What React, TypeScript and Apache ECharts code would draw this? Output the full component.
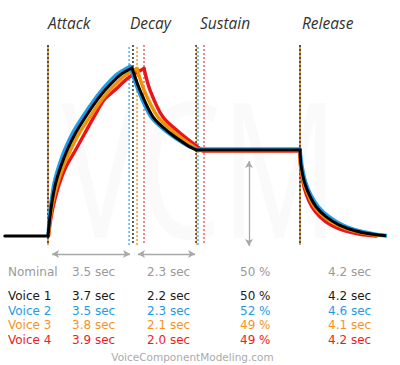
import React, { useEffect, useRef } from "react";
import * as echarts from "echarts";

// ---- data ----
const phaseLabels = ["Attack", "Decay", "Sustain", "Release"];
const rowNames = ["Nominal", "Voice 1", "Voice 2", "Voice 3", "Voice 4"];
const attackTimes = ["3.5 sec", "3.7 sec", "3.5 sec", "3.8 sec", "3.9 sec"];
const decayTimes = ["2.3 sec", "2.2 sec", "2.3 sec", "2.1 sec", "2.0 sec"];
const sustainLevels = ["50 %", "50 %", "52 %", "49 %", "49 %"];
const releaseTimes = ["4.2 sec", "4.2 sec", "4.6 sec", "4.1 sec", "4.2 sec"];
const footerText = "VoiceComponentModeling.com";
const watermarkText = "VCM";

// envelope curves: [time (s), level (%)]
const voice1Curve = [
  [-1.8, 0], [0, 0], [0.083, 11.5], [0.18, 21.4], [0.32, 31.5], [0.53, 41.2], [0.8, 51.2], [1.15, 61.3], [1.57, 71.0], [2.05, 81.0], [2.38, 86.9], [3.0, 95.8], [3.5, 100],
  [3.83, 86.9], [4.38, 70.8], [5.08, 61.3], [5.79, 54.2], [6.17, 51.2], [10.5, 51.2],
  [10.54, 42.3], [10.68, 32.3], [10.89, 24.4], [11.17, 17.4], [11.58, 11.5], [12.14, 6.5], [12.83, 3.0], [13.53, 1.0], [14.21, 0],
];
const voice2Curve = [
  [0, 0], [0.06, 11.5], [0.14, 21.4], [0.25, 31.5], [0.44, 41.2], [0.69, 51.2], [1.02, 61.3], [1.44, 71.0], [1.92, 81.0], [2.24, 86.9], [2.83, 95.8], [3.42, 101],
  [3.75, 86.9], [4.29, 70.8], [5.0, 61.3], [5.75, 54.2], [6.17, 51.8], [10.5, 51.8],
  [10.58, 42.3], [10.73, 32.3], [10.96, 24.4], [11.27, 17.4], [11.71, 11.5], [12.29, 6.5], [13.0, 3.0], [13.71, 1.0], [14.33, 0],
];
const voice3Curve = [
  [0.02, 0], [0.1, 11.5], [0.22, 21.4], [0.4, 31.5], [0.63, 41.2], [0.94, 51.2], [1.31, 61.3], [1.75, 71.0], [2.23, 81.0], [2.58, 86.9], [3.17, 95.2], [3.71, 99.7],
  [4.0, 86.9], [4.58, 70.8], [5.29, 61.3], [5.96, 54.2], [6.29, 50.9], [10.5, 50.9],
  [10.52, 42.3], [10.65, 32.3], [10.85, 24.4], [11.1, 17.4], [11.5, 11.5], [12.04, 6.5], [12.71, 3.0], [13.42, 1.0], [14.08, 0],
];
const voice4Curve = [
  [0.02, 0], [0.13, 11.5], [0.28, 21.4], [0.48, 31.5], [0.75, 41.2], [1.15, 51.2], [1.54, 61.3], [1.92, 71.0], [2.33, 81.0], [2.79, 86.9], [3.33, 94.0], [4.0, 99.7],
  [4.25, 86.9], [4.79, 70.8], [5.5, 61.3], [6.13, 54.2], [6.46, 50.6], [10.5, 50.6],
  [10.52, 42.3], [10.62, 32.3], [10.77, 24.4], [11.0, 17.4], [11.33, 11.5], [11.79, 6.5], [12.38, 3.0], [13.0, 1.0], [13.67, 0],
];

// phase boundary times per voice (voice 1..4)
const attackStartByVoice = [0, 0, 0, 0];
const decayStartByVoice = [3.54, 3.38, 3.71, 4.0];
const sustainStartByVoice = [6.17, 6.25, 6.21, 6.5];
const releaseStartByVoice = [10.5, 10.5, 10.5, 10.5];
const guideLevelRange = [113.7, -5.4];

// dimension arrows
const arrowLevel = -10.7;
const attackSpan = [0.17, 3.42];
const decaySpan = [3.75, 6.13];
const releaseSpan = [10.71, 14.25];
const sustainArrowTime = 8.375;
const sustainArrowLevels = [44.6, -6];

// ---- styling ----
const curveColors = ["#000000", "#1e9de8", "#f39200", "#e8151b"];
const guideColors = ["#3a3a3a", "#5ab8ee", "#f5a12e", "#f06a6a"];
const rowColors = ["#9a9a9a", "#1a1a1a", "#1f9be6", "#f7931e", "#ec1c24"];
const FONT = '"Open Sans", "DejaVu Sans", sans-serif';
const TABLE_FONT = '"DejaVu Sans", sans-serif';

function splitAtKnees(pts: number[][]) {
  const pieces: number[][][] = [];
  let cur: number[][] = [pts[0]];
  const dir = (a: number[], b: number[]) => Math.sign(b[1] - a[1]);
  for (let i = 1; i < pts.length; i++) {
    cur.push(pts[i]);
    if (i < pts.length - 1 && dir(pts[i - 1], pts[i]) !== dir(pts[i], pts[i + 1])) {
      pieces.push(cur);
      cur = [pts[i]];
    }
  }
  pieces.push(cur);
  return pieces;
}

export default function App() {
  const ref = useRef<HTMLDivElement>(null);

  useEffect(() => {
    const chart = echarts.init(ref.current!, null, { renderer: "svg" });
    const curves = [voice1Curve, voice2Curve, voice3Curve, voice4Curve];
    const curveOrder = [3, 2, 1, 0];
    const guideOrder = [3, 0, 1, 2];
    const dashOffsets = [0, 2, 2, 0];

    const series: any[] = [];

    // guide dashed lines
    guideOrder.forEach((vi) => {
      const times = [attackStartByVoice[vi], decayStartByVoice[vi], sustainStartByVoice[vi], releaseStartByVoice[vi]];
      times.forEach((t) => {
        series.push({
          type: "line",
          silent: true,
          symbol: "none",
          z: 1,
          data: [[t, guideLevelRange[0]], [t, guideLevelRange[1]]],
          lineStyle: { color: guideColors[vi], width: 1.6, type: [2, 2], dashOffset: dashOffsets[vi] },
        });
      });
    });

    // arrows
    series.push({
      type: "line",
      silent: true,
      symbol: "none",
      z: 1,
      data: [[sustainArrowTime, sustainArrowLevels[1]]],
      lineStyle: { width: 0 },
      markLine: {
        silent: true,
        symbol: ["arrow", "arrow"],
        symbolSize: [6, 7],
        label: { show: false },
        lineStyle: { color: "#a8a8a8", width: 1.3, type: "solid" },
        data: [
          [{ coord: [attackSpan[0], arrowLevel] }, { coord: [attackSpan[1], arrowLevel] }],
          [{ coord: [decaySpan[0], arrowLevel] }, { coord: [decaySpan[1], arrowLevel] }],
          [{ coord: [releaseSpan[0], arrowLevel] }, { coord: [releaseSpan[1], arrowLevel] }],
          [{ coord: [sustainArrowTime, sustainArrowLevels[0]] }, { coord: [sustainArrowTime, sustainArrowLevels[1]] }],
        ],
      },
    });

    // envelope curves (each phase drawn smooth, sharp corners kept at phase changes)
    curveOrder.forEach((vi, k) => {
      splitAtKnees(curves[vi]).forEach((piece) => {
        series.push({
          type: "line",
          name: rowNames[vi + 1],
          silent: true,
          symbol: "none",
          z: 3 + k,
          smooth: 0.3,
          data: piece,
          lineStyle: { color: curveColors[vi], width: vi === 0 ? 3 : 3.4, join: "miter", cap: "round" },
        });
      });
    });

    const graphics: any[] = [];
    graphics.push({
      type: "text",
      z: -10,
      x: 200,
      y: 165,
      scaleY: 1.45,
      style: {
        text: watermarkText,
        fill: "#fafafa",
        font: `130px ${FONT}`,
        textAlign: "center",
        textVerticalAlign: "middle",
      },
    });
    const phaseX = [48, 130, 200, 302];
    phaseLabels.forEach((p, i) => {
      graphics.push({
        type: "text",
        x: phaseX[i],
        y: 23,
        style: { text: p, fill: "#333333", font: `italic 15.5px ${FONT}`, textAlign: "left", textVerticalAlign: "middle" },
      });
    });
    const colX = [8, 72, 147, 240, 328];
    const rowY = [272, 296, 310.5, 325, 339.5];
    rowNames.forEach((name, r) => {
      const cells = [name, attackTimes[r], decayTimes[r], sustainLevels[r], releaseTimes[r]];
      cells.forEach((c, ci) => {
        graphics.push({
          type: "text",
          x: colX[ci],
          y: rowY[r],
          style: { text: c, fill: rowColors[r], font: `12px ${TABLE_FONT}`, textAlign: "left", textVerticalAlign: "middle" },
        });
      });
    });
    graphics.push({
      type: "text",
      x: 192.5,
      y: 356.5,
      style: { text: footerText, fill: "#ababab", font: `10.5px ${TABLE_FONT}`, textAlign: "center", textVerticalAlign: "middle" },
    });

    chart.setOption({
      animation: false,
      backgroundColor: "#ffffff",
      grid: { left: 0, width: 384, top: 38.6, height: 226.8, containLabel: false },
      xAxis: { type: "value", min: -2, max: 14, show: false, splitLine: { show: false } },
      yAxis: { type: "value", min: -17.5, max: 117.5, show: false, splitLine: { show: false } },
      series,
      graphic: graphics,
    });
    return () => chart.dispose();
  }, []);

  return (
    <div
      ref={ref}
      style={{ position: "absolute", left: 0, top: 0, width: 400, height: 365, background: "#fff" }}
    />
  );
}
